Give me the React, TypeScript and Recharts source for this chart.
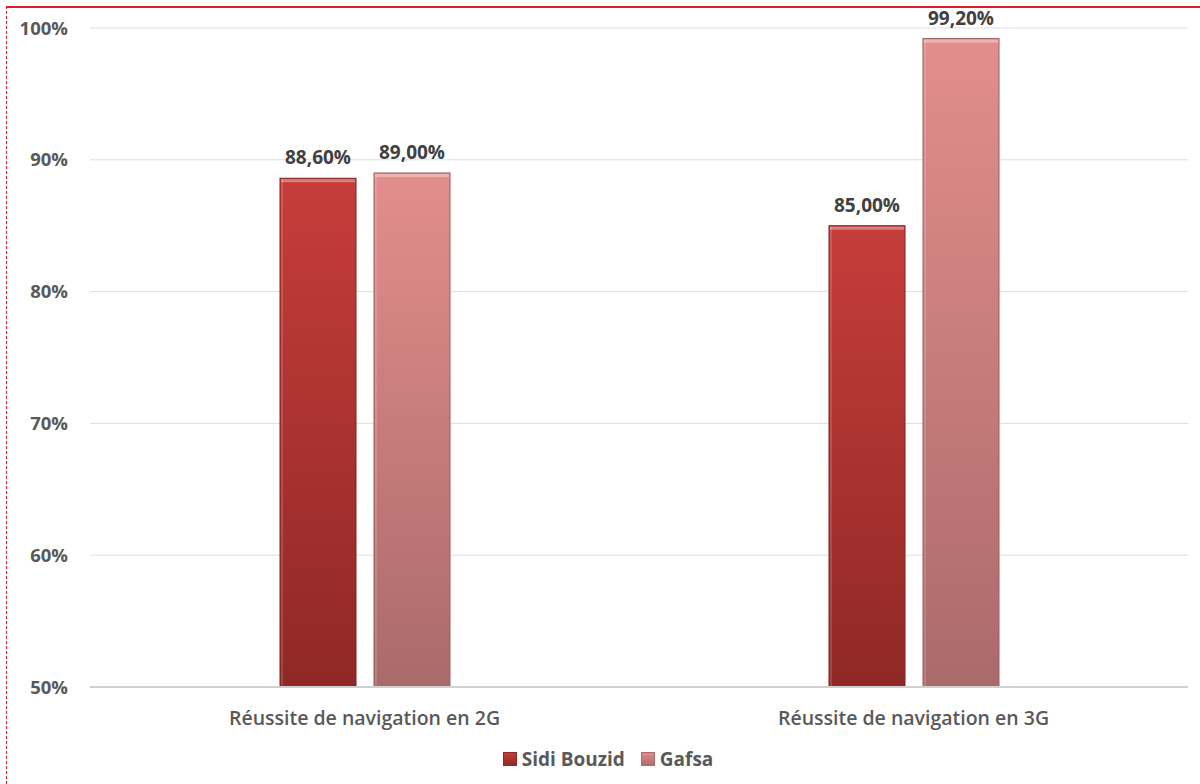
import { Bar, BarChart, CartesianGrid, LabelList, Legend, XAxis, YAxis } from "recharts"

const categories = ["Réussite de navigation en 2G", "Réussite de navigation en 3G"]
const sidiBouzid = [88.6, 85.0]
const gafsa = [89.0, 99.2]
const yTicks = [50, 60, 70, 80, 90, 100]

const data = categories.map((name, i) => ({ name, sidiBouzid: sidiBouzid[i], gafsa: gafsa[i] }))

const FONT = "'Open Sans', 'Noto Sans', sans-serif"

const fmtPct = (v: number) => `${v.toFixed(2).replace(".", ",")}%`

// bar with a soft bevel at the top, like the office 3D preset
function BevelBar(props: any) {
  const { x, y, width, height, fill, edge, light } = props
  if (!height || height <= 0) return null
  return (
    <g>
      <rect x={x} y={y} width={width} height={height} fill={fill} stroke={edge} strokeWidth={1} />
      <rect x={x + 1} y={y + 1} width={width - 2} height={3} fill={light} opacity={0.35} />
      <rect x={x + 1} y={y + 1} width={2} height={height - 2} fill={light} opacity={0.15} />
    </g>
  )
}

function LegendContent() {
  const items = [
    { label: "Sidi Bouzid", a: "#c43c3a", b: "#922a28" },
    { label: "Gafsa", a: "#e08c8a", b: "#ae6c6c" },
  ]
  return (
    <div style={{ display: "flex", justifyContent: "center", gap: 16, fontFamily: FONT, fontWeight: 700, fontSize: 19, color: "#595959", paddingLeft: 16 }}>
      {items.map((it) => (
        <div key={it.label} style={{ display: "flex", alignItems: "center", gap: 5 }}>
          <span style={{ display: "inline-block", width: 12, height: 12, background: `linear-gradient(${it.a}, ${it.b})`, border: `1px solid ${it.b}` }} />
          <span>{it.label}</span>
        </div>
      ))}
    </div>
  )
}

export default function App() {
  return (
    <div style={{ position: "absolute", left: 0, top: 0, width: 1200, height: 784, background: "#ffffff", overflow: "hidden" }}>
      <div style={{ position: "absolute", left: 6, top: 6, right: 0, bottom: 0, borderTop: "2px solid #d9202a", borderLeft: "1px dashed #d9202a" }} />
      <div style={{ position: "absolute", left: 0, top: 0 }}>
        <BarChart
          width={1200}
          height={784}
          data={data}
          margin={{ top: 28, right: 12, bottom: 0, left: 0 }}
          barSize={76}
          barGap={18}
        >
          <defs>
            <linearGradient id="gSidi" x1="0" y1="0" x2="0" y2="1">
              <stop offset="0%" stopColor="#c63d3b" />
              <stop offset="100%" stopColor="#8f2826" />
            </linearGradient>
            <linearGradient id="gGafsa" x1="0" y1="0" x2="0" y2="1">
              <stop offset="0%" stopColor="#e28e8c" />
              <stop offset="100%" stopColor="#ab6a6a" />
            </linearGradient>
          </defs>
          <CartesianGrid vertical={false} stroke="#dedede" strokeWidth={1} />
          <XAxis
            dataKey="name"
            height={97}
            axisLine={{ stroke: "#d0d0d0", strokeWidth: 2 }}
            tickLine={false}
            tickMargin={18}
            tick={{ fill: "#595959", fontSize: 19.5, fontWeight: 600, fontFamily: FONT }}
          />
          <YAxis
            width={90}
            domain={[50, 100]}
            ticks={yTicks}
            interval={0}
            axisLine={false}
            tickLine={false}
            tickMargin={16}
            tickFormatter={(v: number) => `${v}%`}
            tick={{ fill: "#595959", fontSize: 18.5, fontWeight: 700, fontFamily: FONT }}
          />
          <Legend verticalAlign="middle" layout="horizontal" wrapperStyle={{ top: 746, left: 0, width: 1200 }} content={<LegendContent />} />
          <Bar
            dataKey="sidiBouzid"
            name="Sidi Bouzid"
            fill="url(#gSidi)"
            isAnimationActive={false}
            shape={(p: any) => <BevelBar {...p} fill="url(#gSidi)" edge="#7e2220" light="#ffffff" />}
          >
            <LabelList dataKey="sidiBouzid" position="top" offset={14} formatter={(v: any) => fmtPct(Number(v))} style={{ fill: "#404040", fontSize: 19, fontWeight: 700, fontFamily: FONT }} />
          </Bar>
          <Bar
            dataKey="gafsa"
            name="Gafsa"
            fill="url(#gGafsa)"
            isAnimationActive={false}
            shape={(p: any) => <BevelBar {...p} fill="url(#gGafsa)" edge="#96605f" light="#ffffff" />}
          >
            <LabelList dataKey="gafsa" position="top" offset={14} formatter={(v: any) => fmtPct(Number(v))} style={{ fill: "#404040", fontSize: 19, fontWeight: 700, fontFamily: FONT }} />
          </Bar>
        </BarChart>
      </div>
    </div>
  )
}
